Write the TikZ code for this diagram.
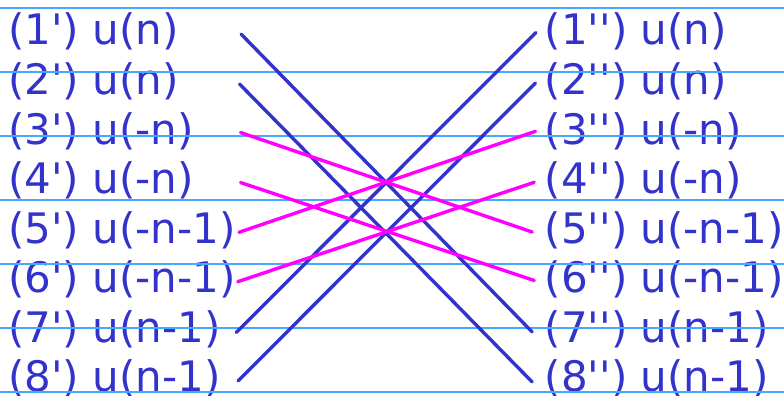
\documentclass[tikz,border=0pt]{standalone}
\usepackage{fontspec}
\newfontfamily\lblfont{DejaVu Sans}
\definecolor{txtblue}{RGB}{51,51,204}
\definecolor{gridblue}{RGB}{68,170,255}
\definecolor{mag}{RGB}{255,0,255}
\begin{document}
\begin{tikzpicture}[x=1pt,y=-1pt,
 lbl/.style={anchor=base west, inner sep=0pt, text=txtblue, font=\lblfont\fontsize{42}{50}\selectfont},
 gridline/.style={draw=gridblue, line width=1.1pt},
 blueline/.style={draw=txtblue, line width=3.4pt, line cap=round},
 magline/.style={draw=mag, line width=3.4pt, line cap=round}]
\useasboundingbox (0,0) rectangle (784,396);
% labels
\node[lbl] (L1) at (8.1,45)    {(1') u(n)};
\node[lbl] (L2) at (8.1,94.5)  {(2') u(n)};
\node[lbl] (L3) at (8.1,144)   {(3') u(-n)};
\node[lbl] (L4) at (8.1,193.5) {(4') u(-n)};
\node[lbl] (L5) at (8.1,243)   {(5') u(-n-1)};
\node[lbl] (L6) at (8.1,292.5) {(6') u(-n-1)};
\node[lbl] (L7) at (8.1,342)   {(7') u(n-1)};
\node[lbl] (L8) at (8.1,391.5) {(8') u(n-1)};
\node[lbl] (R1) at (544.7,45)    {(1'') u(n)};
\node[lbl] (R2) at (544.7,94.5)  {(2'') u(n)};
\node[lbl] (R3) at (544.7,144)   {(3'') u(-n)};
\node[lbl] (R4) at (544.7,193.5) {(4'') u(-n)};
\node[lbl] (R5) at (544.7,243)   {(5'') u(-n-1)};
\node[lbl] (R6) at (544.7,292.5) {(6'') u(-n-1)};
\node[lbl] (R7) at (544.7,342)   {(7'') u(n-1)};
\node[lbl] (R8) at (544.7,391.5) {(8'') u(n-1)};
% grid lines
\foreach \yy [count=\i] in {8,72,136,200,264,328,392}
  \draw[gridline] (0,\yy) coordinate (g\i a) -- (784,\yy) coordinate (g\i b);
% connector end points
\coordinate (a1) at (241,34);
\coordinate (a2) at (239.5,84);
\coordinate (a3) at (240.5,132.5);
\coordinate (a4) at (240.5,182.5);
\coordinate (a5) at (239,232.3);
\coordinate (a6) at (237.7,281.7);
\coordinate (a7) at (236.2,332.5);
\coordinate (a8) at (238,381);
\coordinate (b1) at (536,32.5);
\coordinate (b2) at (535.5,83);
\coordinate (b3) at (535.5,131.3);
\coordinate (b4) at (534.2,182.3);
\coordinate (b5) at (532.2,232);
\coordinate (b6) at (534.2,280.5);
\coordinate (b7) at (532.2,332);
\coordinate (b8) at (532.2,382);
% connectors
\draw[blueline] (a1) -- (b7);
\draw[blueline] (a2) -- (b8);
\draw[blueline] (a7) -- (b1);
\draw[blueline] (a8) -- (b2);
\draw[magline] (a3) -- (b5);
\draw[magline] (a4) -- (b6);
\draw[magline] (a5) -- (b3);
\draw[magline] (a6) -- (b4);
\end{tikzpicture}
\end{document}
